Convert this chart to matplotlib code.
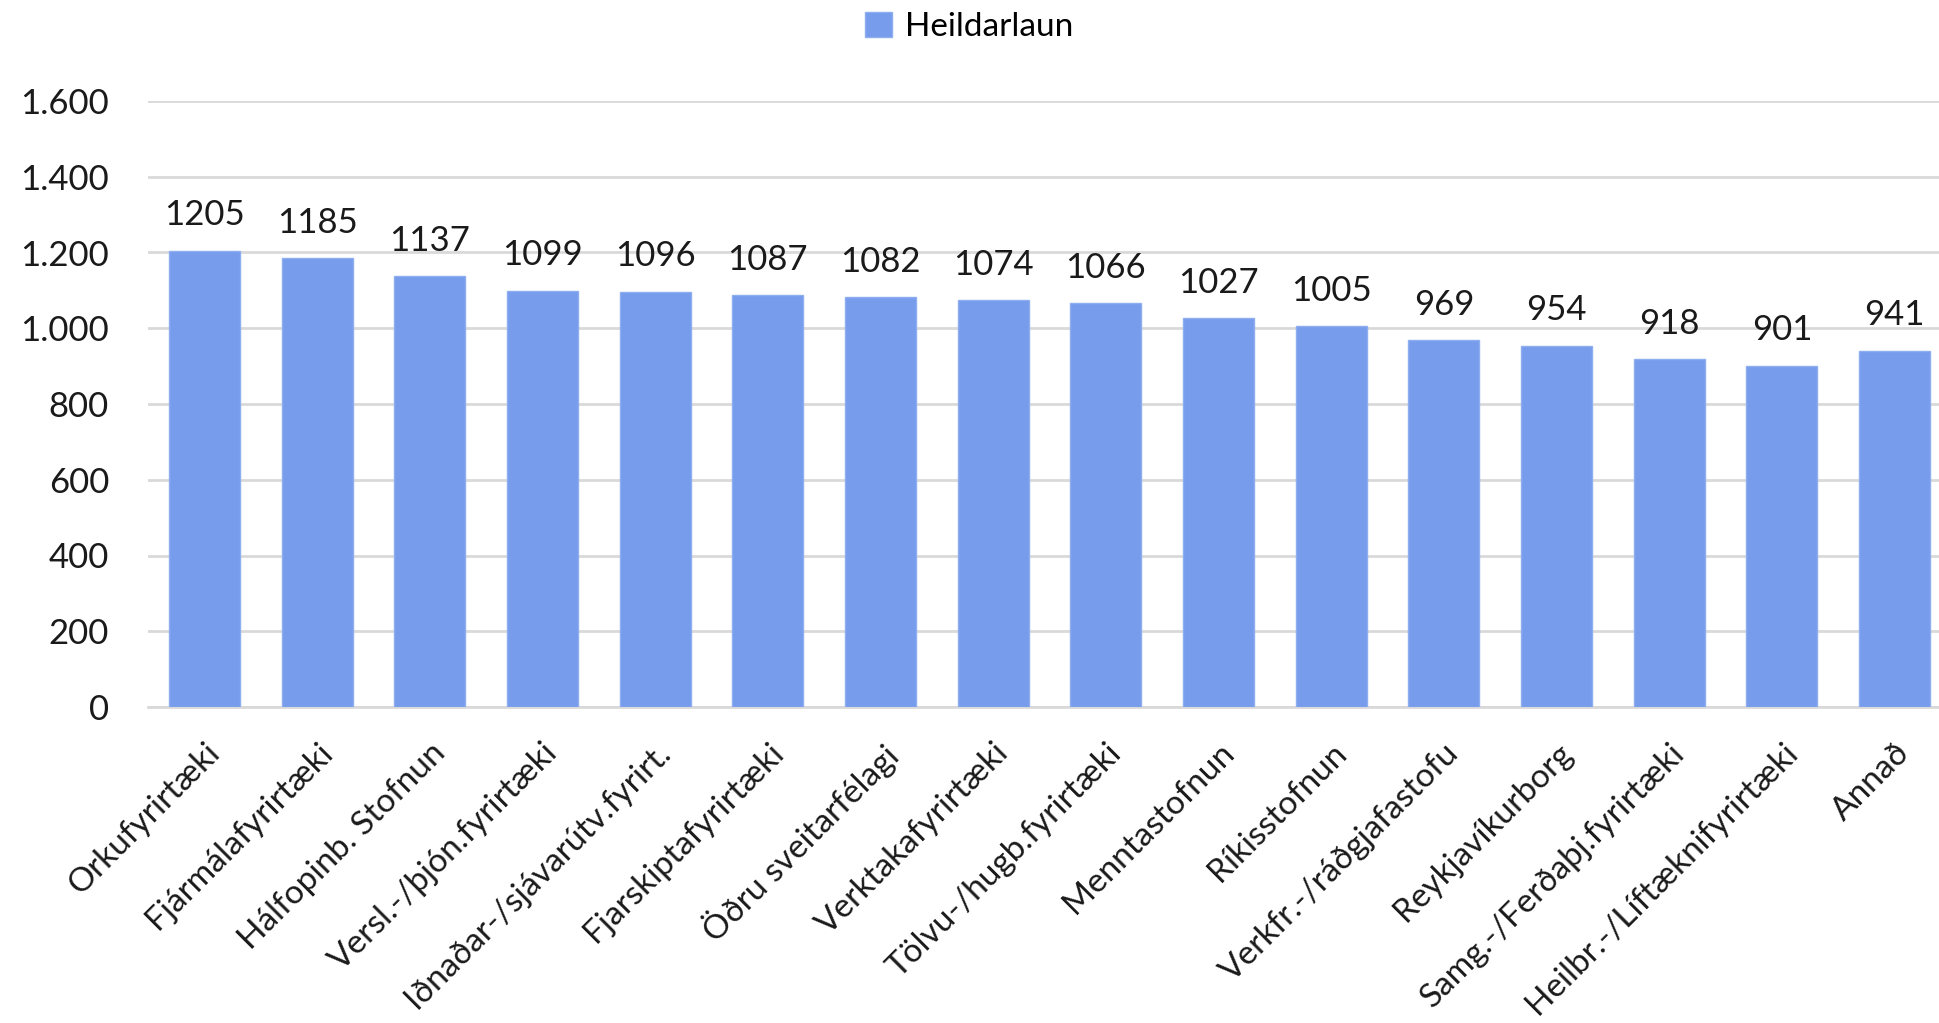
import matplotlib
matplotlib.use("Agg")
import matplotlib.pyplot as plt
from matplotlib.ticker import FuncFormatter

plt.rcParams['font.family'] = ['Lato', 'DejaVu Sans']

categories = ["Orkufyrirtæki", "Fjármálafyrirtæki", "Hálfopinb. Stofnun",
              "Versl.-/þjón.fyrirtæki", "Iðnaðar-/sjávarútv.fyrirt.",
              "Fjarskiptafyrirtæki", "Öðru sveitarfélagi", "Verktakafyrirtæki",
              "Tölvu-/hugb.fyrirtæki", "Menntastofnun", "Ríkisstofnun",
              "Verkfr.-/ráðgjafastofu", "Reykjavíkurborg",
              "Samg.-/Ferðaþj.fyrirtæki", "Heilbr.-/Líftæknifyrirtæki", "Annað"]
values = [1205, 1185, 1137, 1099, 1096, 1087, 1082, 1074, 1066, 1027,
          1005, 969, 954, 918, 901, 941]
series_name = "Heildarlaun"
yticks = [0, 200, 400, 600, 800, 1000, 1200, 1400, 1600]

fig = plt.figure(figsize=(19.39, 10.23), dpi=100)
ax = fig.add_axes([148/1939, 1-707/1023, (1951-148)/1939, (707-101)/1023])

x = list(range(len(categories)))
bars = ax.bar(x, values, width=0.63, color='#779CEC', edgecolor='#8EAEF0',
              linewidth=1, label=series_name, zorder=3)
for xi, v in zip(x, values):
    ax.annotate(str(v), (xi, v), xytext=(0, 14), textcoords='offset points',
                ha='center', va='bottom', fontsize=25, color='#1a1a1a')

ax.set_xlim(-0.5, len(categories) - 0.5)
ax.set_ylim(0, 1600)
ax.set_yticks(yticks)
ax.yaxis.set_major_formatter(FuncFormatter(lambda v, p: f"{int(v):,}".replace(",", ".")))
ax.grid(axis='y', color='#D9D9D9', linewidth=2, zorder=0)
for s in ['top', 'right', 'left']:
    ax.spines[s].set_visible(False)
ax.spines['bottom'].set_color('#D9D9D9')
ax.spines['bottom'].set_linewidth(2)
ax.tick_params(axis='y', length=0, pad=28, labelsize=25, labelcolor='#1a1a1a')
ax.tick_params(axis='x', length=0, pad=22)
ax.set_xticks(x)
ax.set_xticklabels(categories, rotation=45, ha='right', rotation_mode='anchor',
                   fontsize=24, color='#1a1a1a')

fig.legend(handles=[bars], labels=[series_name], loc='center',
           bbox_to_anchor=(0.5, 1-27/1023), frameon=False, fontsize=24,
           handlelength=0.8, handleheight=0.8, handletextpad=0.4)

fig.savefig("out.png", dpi=100)
